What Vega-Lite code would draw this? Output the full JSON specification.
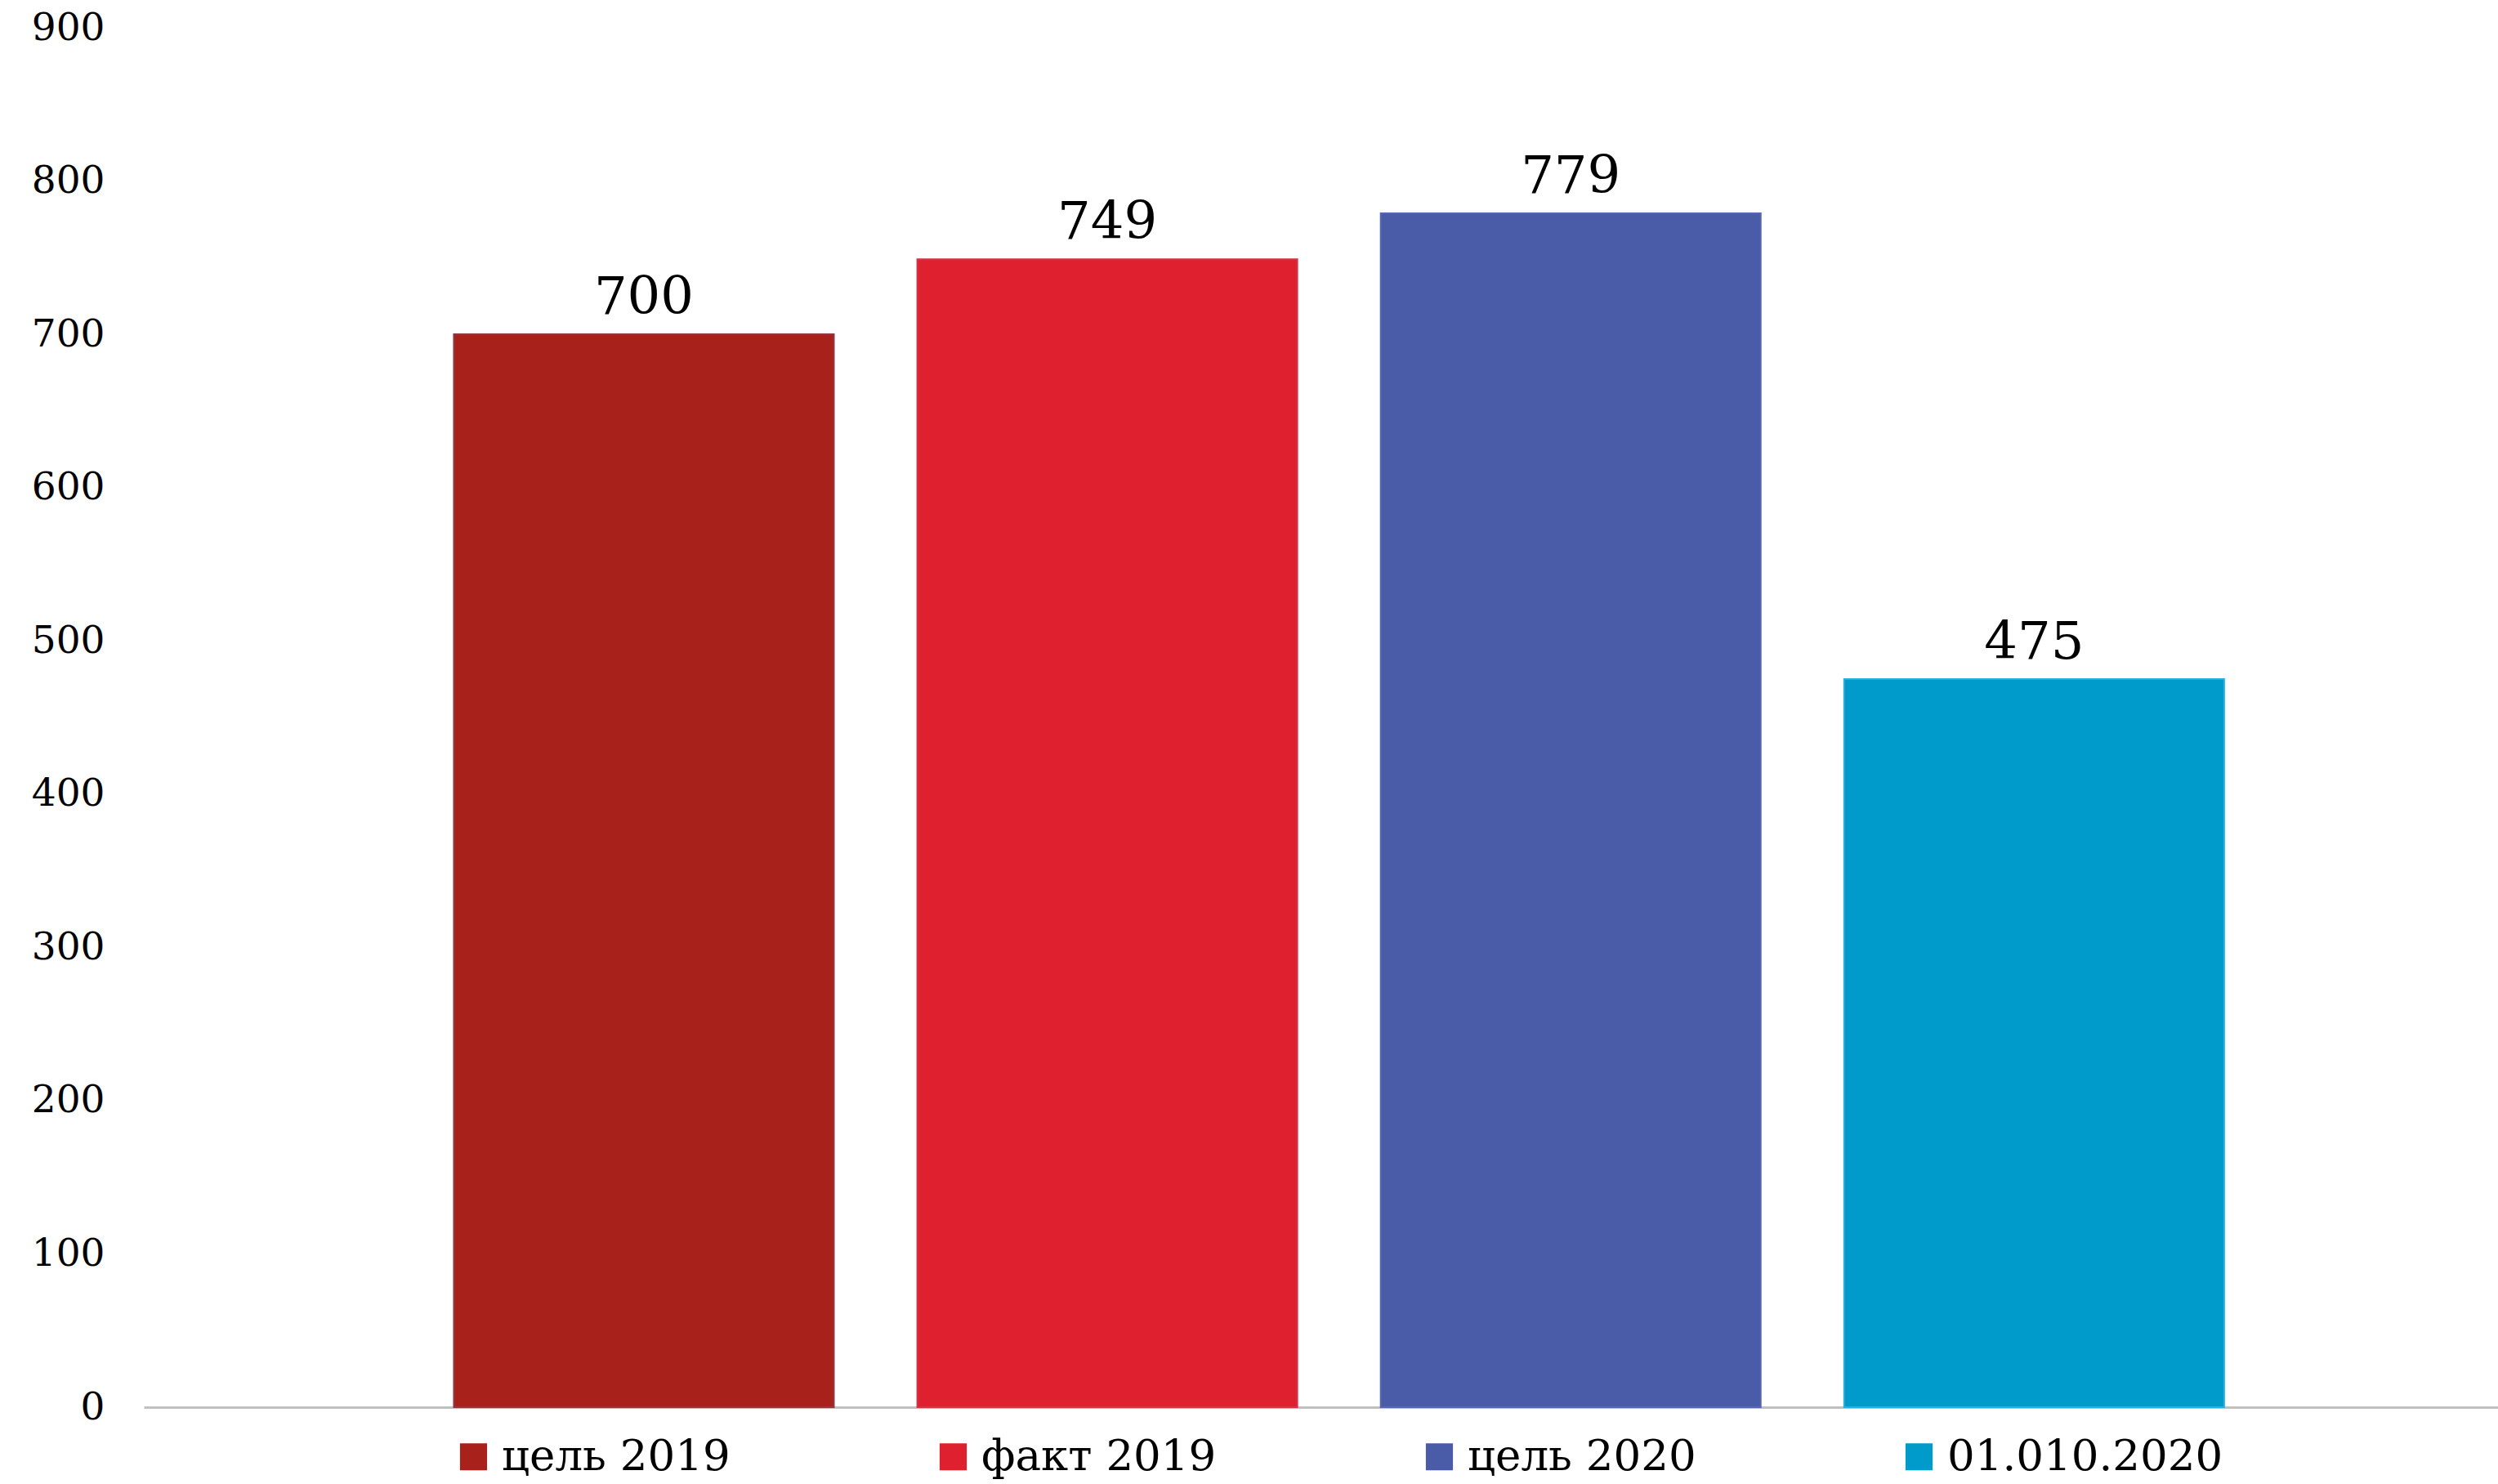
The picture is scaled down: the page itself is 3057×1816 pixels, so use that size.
{
  "$schema": "https://vega.github.io/schema/vega-lite/v6.json",
  "autosize": {"type": "none"},
  "padding": {"left": 176, "top": 34, "right": 0, "bottom": 94},
  "width": 2881,
  "height": 1688,
  "background": "white",
  "config": {"view": {"stroke": null}, "font": "DejaVu Serif"},
  "data": {"values": [
    {"series": "цель 2019", "value": 700},
    {"series": "факт 2019", "value": 749},
    {"series": "цель 2020", "value": 779},
    {"series": "01.010.2020", "value": 475}
  ]},
  "encoding": {
    "x": {
      "field": "series", "type": "nominal", "sort": null,
      "scale": {"paddingInner": 0.18, "paddingOuter": 0.63, "align": 0.531},
      "axis": {"title": null, "labels": false, "ticks": false, "domain": true, "domainColor": "#C0C0C0", "domainWidth": 3, "grid": false}
    },
    "y": {
      "field": "value", "type": "quantitative",
      "scale": {"domain": [0, 900], "nice": false},
      "axis": {"title": null, "values": [0, 100, 200, 300, 400, 500, 600, 700, 800, 900], "domain": false, "ticks": false, "grid": false, "labelFontSize": 47, "labelColor": "#000000", "labelPadding": 48, "labelFont": "DejaVu Serif"}
    }
  },
  "layer": [
    {
      "mark": {"type": "bar", "strokeWidth": 2},
      "encoding": {
        "color": {
          "field": "series", "type": "nominal", "sort": null,
          "scale": {"domain": ["цель 2019", "факт 2019", "цель 2020", "01.010.2020"], "range": ["#A8211A", "#DF202F", "#4A5BA8", "#009BCB"]},
          "legend": {
            "title": null, "orient": "none", "direction": "horizontal", "columns": 4,
            "legendX": 377, "legendY": 1722,
            "symbolType": "square", "symbolSize": 1100, "symbolStrokeWidth": 0,
            "symbolOpacity": 1,
            "labelFontSize": 53, "labelFont": "DejaVu Serif", "labelColor": "#000000",
            "labelOffset": 8, "labelLimit": 0, "columnPadding": 246
          }
        },
        "stroke": {
          "field": "series", "type": "nominal", "sort": null,
          "scale": {"domain": ["цель 2019", "факт 2019", "цель 2020", "01.010.2020"], "range": ["#8E3A45", "#D0364A", "#5567B0", "#2AAEDB"]},
          "legend": null
        }
      }
    },
    {
      "mark": {"type": "text", "baseline": "alphabetic", "dy": -25, "fontSize": 64, "font": "DejaVu Serif", "color": "#000000"},
      "encoding": {"text": {"field": "value", "type": "quantitative"}}
    }
  ]
}
